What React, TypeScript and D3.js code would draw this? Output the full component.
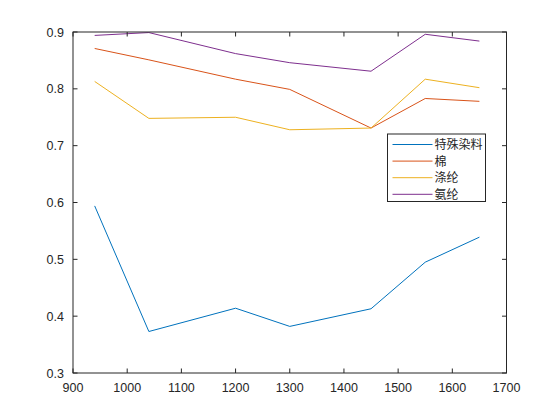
import React from "react";
import * as d3 from "d3";

const xValues = [940, 1040, 1200, 1300, 1450, 1550, 1650];
const seriesNames = ["特殊染料", "棉", "涤纶", "氨纶"];
const special = [0.594, 0.373, 0.414, 0.382, 0.413, 0.495, 0.539];
const cotton = [0.871, 0.851, 0.817, 0.799, 0.731, 0.783, 0.778];
const polyester = [0.813, 0.748, 0.750, 0.728, 0.731, 0.817, 0.802];
const spandex = [0.894, 0.899, 0.862, 0.846, 0.831, 0.896, 0.884];
const colors = ["#0072BD", "#D95319", "#EDB120", "#7E2F8E"];
const xTicks = [900, 1000, 1100, 1200, 1300, 1400, 1500, 1600, 1700];
const yTicks = [0.3, 0.4, 0.5, 0.6, 0.7, 0.8, 0.9];

export default function App() {
  const W = 560, H = 420;
  const L = 73, R = 506.5, T = 32, B = 373;
  const x = d3.scaleLinear().domain([900, 1700]).range([L, R]);
  const y = d3.scaleLinear().domain([0.3, 0.9]).range([B, T]);
  const all = [special, cotton, polyester, spandex];
  const line = d3.line<number>().x((_, i) => x(xValues[i])).y((d) => y(d));
  const axisColor = "#262626";
  const font = "'Liberation Sans', Arial, sans-serif";
  const tl = 4.5;
  const lg = { x: 387.5, y: 134, w: 98, h: 67.5 };
  return (
    <svg width={W} height={H} style={{ position: "absolute", left: 0, top: 0, background: "#fff" }}>
      <rect x={0} y={0} width={W} height={H} fill="#fff" />
      {all.map((s, i) => (
        <path key={i} d={line(s) || ""} fill="none" stroke={colors[i]} strokeWidth={1} />
      ))}
      <rect x={L} y={T} width={R - L} height={B - T} fill="none" stroke={axisColor} strokeWidth={1} />
      {xTicks.map((t) => (
        <g key={t}>
          <line x1={x(t)} x2={x(t)} y1={B} y2={B - tl} stroke={axisColor} />
          <line x1={x(t)} x2={x(t)} y1={T} y2={T + tl} stroke={axisColor} />
          <text x={x(t)} y={392} textAnchor="middle" fontFamily={font} fontSize={12.5} fill={axisColor}>{t}</text>
        </g>
      ))}
      {yTicks.map((t) => (
        <g key={t}>
          <line x1={L} x2={L + tl} y1={y(t)} y2={y(t)} stroke={axisColor} />
          <line x1={R} x2={R - tl} y1={y(t)} y2={y(t)} stroke={axisColor} />
          <text x={L - 9} y={y(t) + 4.5} textAnchor="end" fontFamily={font} fontSize={12.5} fill={axisColor}>{t.toFixed(1)}</text>
        </g>
      ))}
      <g>
        <rect x={lg.x} y={lg.y} width={lg.w} height={lg.h} fill="#fff" stroke={axisColor} strokeWidth={1} />
        {seriesNames.map((n, i) => {
          const yy = lg.y + 10.5 + i * 16.6;
          return (
            <g key={n}>
              <line x1={lg.x + 5} x2={lg.x + 45} y1={yy} y2={yy} stroke={colors[i]} strokeWidth={1} />
              <text x={lg.x + 47} y={yy + 4.5} fontFamily="'Noto Sans CJK SC', sans-serif" fontSize={12} fill={axisColor}>{n}</text>
            </g>
          );
        })}
      </g>
    </svg>
  );
}
